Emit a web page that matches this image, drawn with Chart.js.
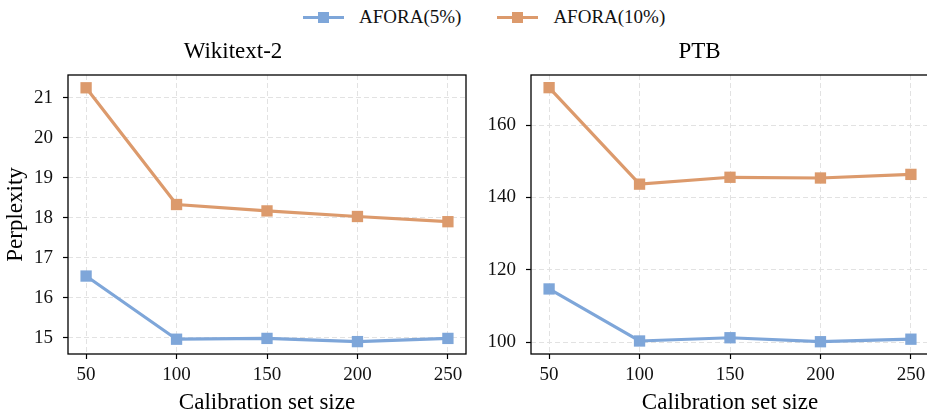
<!DOCTYPE html>
<html>
<head>
<meta charset="utf-8">
<script src="https://cdn.jsdelivr.net/npm/chart.js@4/dist/chart.umd.min.js"></script>
<style>
  html, body { margin: 0; padding: 0; background: #fff; overflow: hidden; }
  body { width: 927px; height: 411px; position: relative; font-family: 'Liberation Serif', 'DejaVu Serif', serif; }
  canvas { position: absolute; top: 0; }
  #legend { position: absolute; top: 5px; left: 303px; height: 24px; display: flex; align-items: center; font-size: 19px; color: #111; }
  .item { display: flex; align-items: center; margin-right: 36px; }
  .swatch { position: relative; width: 41px; height: 3px; margin-right: 15px; }
  .swatch i { position: absolute; left: 15px; top: -4px; width: 11px; height: 11px; }
</style>
</head>
<body>
<div id="legend"></div>
<canvas id="wiki" width="470" height="411" style="left:0"></canvas>
<canvas id="ptb" width="470" height="411" style="left:470px"></canvas>
<script>
const sizes = [50, 100, 150, 200, 250];
const seriesNames = ['AFORA(5%)', 'AFORA(10%)'];
const colors = ['#7ea6d9', '#dc9a6c'];

const wikiAfora5 = [16.54, 14.96, 14.98, 14.90, 14.98];
const wikiAfora10 = [21.25, 18.33, 18.17, 18.03, 17.90];
const wikiTicks = [15, 16, 17, 18, 19, 20, 21];

const ptbAfora5 = [114.7, 100.3, 101.2, 100.1, 100.8];
const ptbAfora10 = [170.4, 143.7, 145.6, 145.4, 146.4];
const ptbTicks = [100, 120, 140, 160];

const serif = "'Liberation Serif', 'DejaVu Serif', serif";
Chart.defaults.font.family = serif;
Chart.defaults.color = '#111';

// legend
const legend = document.getElementById('legend');
seriesNames.forEach((name, i) => {
  const it = document.createElement('div');
  it.className = 'item';
  it.innerHTML = `<span class="swatch" style="background:${colors[i]}"><i style="background:${colors[i]}"></i></span><span>${name}</span>`;
  legend.appendChild(it);
});

// box around the plot area (matplotlib spines)
const frame = {
  id: 'frame',
  afterDraw(chart) {
    const { ctx, chartArea: a } = chart;
    ctx.save();
    ctx.strokeStyle = '#000';
    ctx.lineWidth = 1.3;
    ctx.strokeRect(a.left, a.top, a.right - a.left, a.bottom - a.top);
    ctx.restore();
  }
};

function makeChart(canvas, title, a5, a10, yTicks, yMin, yMax, yTitle, yWidth, padRight) {
  const ds = (data, i) => ({
    label: seriesNames[i], data: sizes.map((x, k) => ({ x, y: data[k] })),
    borderColor: colors[i], backgroundColor: colors[i], borderWidth: 3.2,
    pointStyle: 'rect', pointRadius: 8, pointHoverRadius: 8, pointBorderWidth: 0,
    tension: 0, clip: false,
  });
  return new Chart(canvas, {
    type: 'line',
    data: { datasets: [ds(a5, 0), ds(a10, 1)] },
    plugins: [frame],
    options: {
      responsive: false, animation: false, devicePixelRatio: 1,
      layout: { autoPadding: false, padding: { left: 0, right: padRight, top: 0, bottom: 0 } },
      plugins: {
        legend: { display: false }, tooltip: { enabled: false },
        title: { display: true, text: title, color: '#000', font: { family: serif, size: 23, weight: 'normal', lineHeight: 1.2 }, padding: { top: 38, bottom: 9.4 } },
      },
      scales: {
        x: {
          type: 'linear', min: 40, max: 260,
          afterBuildTicks: s => { s.ticks = sizes.map(v => ({ value: v })); },
          afterFit: s => { s.height = 57; s.paddingLeft = 0; s.paddingRight = 0; },
          grid: { color: '#e2e2e2', lineWidth: 1, tickColor: '#000', tickLength: 5, tickWidth: 1.2 },
          border: { display: false, dash: [5, 3] },
          ticks: { color: '#111', font: { family: serif, size: 19 }, padding: 5, maxRotation: 0, callback: v => String(v) },
          title: { display: true, text: 'Calibration set size', color: '#000', font: { family: serif, size: 23, lineHeight: 0.7 }, padding: 0 },
        },
        y: {
          min: yMin, max: yMax,
          afterBuildTicks: s => { s.ticks = yTicks.map(v => ({ value: v })); },
          afterFit: s => { s.width = yWidth; },
          grid: { color: '#e2e2e2', lineWidth: 1, tickColor: '#000', tickLength: 5, tickWidth: 1.2 },
          border: { display: false, dash: [5, 3] },
          ticks: { color: '#111', font: { family: serif, size: 19 }, padding: 10, callback: v => String(v) },
          title: { display: !!yTitle, text: yTitle, color: '#000', font: { family: serif, size: 23, lineHeight: 1.2 }, padding: { top: 2, bottom: 0 } },
        },
      },
    },
  });
}

makeChart(document.getElementById('wiki'), 'Wikitext-2', wikiAfora5, wikiAfora10, wikiTicks, 14.59, 21.57, 'Perplexity', 68, 4);
makeChart(document.getElementById('ptb'), 'PTB', ptbAfora5, ptbAfora10, ptbTicks, 96.7, 173.9, '', 61, 11);
</script>
</body>
</html>
